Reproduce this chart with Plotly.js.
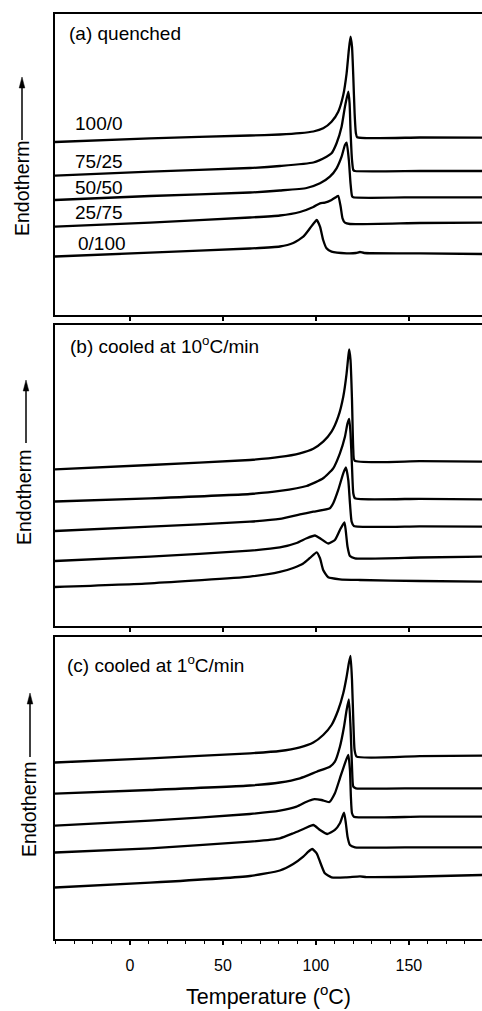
<!DOCTYPE html>
<html><head><meta charset="utf-8">
<script src="https://cdn.plot.ly/plotly-3.0.1.min.js"></script>
<style>html,body{margin:0;padding:0;background:#fff}</style>
</head><body><div id="chart" style="width:482px;height:1011px"></div>
<script>
const compositions = ['100/0','75/25','50/50','25/75','0/100'];
const panelTitles = ['(a) quenched','(b) cooled at 10<sup>o</sup>C/min','(c) cooled at 1<sup>o</sup>C/min'];
const tickValues = [0, 50, 100, 150];
const yTitle = 'Endotherm';
const xTitle = 'Temperature (<sup>o</sup>C)';

// (a) quenched — temperature (°C) and heat flow (arb. units, stacked)
const qT1 = [-40.3,10.8,64.5,80.6,91.4,98.6,103.9,108.4,112.0,114.7,116.5,117.7,118.6,119.4,120.1,120.8,121.5,122.2,155.9,189.3];
const qY1 = [173,176.7,179.5,180.5,181.8,183.5,186.7,193.3,203.3,220,241.7,265,278.3,268.3,238.3,201.7,181.7,177.7,177.5,177.3];
const qT2 = [-40.3,10.8,64.5,80.6,98.6,105.7,108.4,111.1,113.8,115.6,117.4,118.1,118.6,119.4,120.1,121.0,155.9,189.3];
const qY2 = [139.3,143.3,147,149,152.5,158.3,161.7,171.7,188.3,208.3,223.3,211.7,185,155,145,144,144,144];
const qT3 = [-40.3,10.8,64.5,80.6,95.0,102.2,107.5,111.1,113.8,115.6,116.5,117.7,118.6,119.4,120.1,155.9,189.3];
const qY3 = [115,119,122.5,124.5,127,131.7,138.3,146.7,158.3,170,172.3,155,131.7,119,117.7,117.7,117.7];
const qT4 = [-40.3,10.8,64.5,80.6,91.4,98.6,102.2,104.8,108.4,111.1,112.0,113.3,114.3,115.6,118.3,155.9,189.3];
const qY4 = [88.3,92.3,97.5,99.5,103,108,111.7,112.3,115,118.3,119,108.3,96.7,92.3,91,92,92.3];
const qT5 = [-40.3,10.8,64.5,80.6,87.8,93.2,96.8,99.5,100.4,102.2,103.9,105.7,108.4,116.5,121.5,123.7,126,155.9,189.3];
const qY5 = [58.5,62.3,66.5,68.5,72,78.3,86.7,93.3,95,88.3,75,66.7,63.3,61.7,62,63,62,61.7,61];

// (b) cooled at 10 °C/min
const bT1 = [-40.3,10.8,64.5,80.6,91.4,98.6,103.9,108.4,112.0,114.7,116.5,117.4,117.9,118.6,119.4,120.1,120.8,155.9,189.3];
const bY1 = [156.7,161,166,169,172.7,177.3,184.3,194.3,209.3,229.3,252.7,269.3,276.7,266,226,176,165.3,164.8,164.3];
const bT2 = [-40.3,10.8,64.5,80.6,95.0,103.9,109.3,112.9,115.6,117.0,117.9,118.6,119.4,120.1,121.0,155.9,189.3];
const bY2 = [124.5,127.7,132,135,140,147.7,157.7,172.7,189.3,202.7,207,192.7,159.3,132.7,127.7,127.2,126.7];
const bT3 = [-40.3,10.8,64.5,80.6,91.4,98.6,107.5,109.3,112.0,114.7,116.1,117.4,118.3,119.2,120.4,155.9,189.3];
const bY3 = [95,99.3,104.3,107,111.5,114.3,117.7,122.7,136,152.7,158.5,146,122.7,104.3,100,99.6,99.3];
const bT4 = [-40.3,10.8,64.5,80.6,89.6,95.0,99.5,102.2,106.6,110.2,112.9,115.3,116.0,117.0,118.3,121.0,155.9,189.3];
const bY4 = [65,69.3,75.3,78.5,83,87.7,90.5,87.7,82.5,86,96,103.5,96,79.3,70,67.7,68.5,69.3];
const bT5 = [-40.3,10.8,64.5,80.6,87.8,93.2,96.8,100.4,102.2,103.9,106.6,112.9,123.7,155.9,189.3];
const bY5 = [39,42.7,49.3,54,58,62.5,68,73.7,67.7,56,48.7,46.7,46,45,44.3];

// (c) cooled at 1 °C/min
const cT1 = [-40.3,10.8,64.5,80.6,91.4,98.6,103.9,108.4,112.0,114.7,116.5,117.7,118.6,119.4,120.1,120.8,121.9,155.9,189.3];
const cY1 = [176.5,180.7,185.7,188,191.7,196.5,204,214,229,245.7,262.3,275.7,283,259,219,189,182.3,182.8,183.3];
const cT2 = [-40.3,10.8,64.5,80.6,91.4,100.4,107.5,110.2,112.9,115.1,116.5,117.7,118.6,119.4,120.1,121.5,155.9,189.3];
const cY2 = [145.3,149,153.5,156.5,160.7,167.3,172.3,177.3,192.3,212.3,229,239.5,212.3,172.3,152.3,150.7,150.7,150.7];
const cT3 = [-40.3,10.8,64.5,80.6,89.6,95.0,98.6,103.0,107.2,110.2,112.9,115.6,117.4,118.3,118.8,119.4,120.4,155.9,189.3];
const cY3 = [113.3,118.3,125,128.3,132.3,137.3,139.7,139,137,145.7,160.7,175.7,184,169,142.3,125.7,122.3,122.3,122.3];
const cT4 = [-40.3,10.8,64.5,80.6,87.8,94.1,98.6,102.2,106.1,110.2,112.9,115.1,116.1,117.0,118.3,121.0,155.9,189.3];
const cY4 = [86.5,90.7,97.3,100.7,105.7,110.7,114,109,105,109,115.7,126.3,115.7,102.3,94,91.7,91.7,91.7];
const cT5 = [-40.3,10.8,64.5,80.6,87.8,93.2,95.9,98.0,100.4,102.5,104.8,108.4,116.5,123.7,127.2,155.9,189.3];
const cY5 = [51.5,56.3,63,68.5,75,82.3,87.3,90,85.7,75.7,65.7,61.7,61.7,62.6,61.9,62.5,64];

const panels = [
  {T:[qT1,qT2,qT3,qT4,qT5], Y:[qY1,qY2,qY3,qY4,qY5], xa:'x3', ya:'y3'},
  {T:[bT1,bT2,bT3,bT4,bT5], Y:[bY1,bY2,bY3,bY4,bY5], xa:'x2', ya:'y2'},
  {T:[cT1,cT2,cT3,cT4,cT5], Y:[cY1,cY2,cY3,cY4,cY5], xa:'x', ya:'y'}
];

const traces = [];
panels.forEach(p => {
  p.T.forEach((t, i) => {
    traces.push({
      x: t, y: p.Y[i], xaxis: p.xa, yaxis: p.ya, type: 'scatter', mode: 'lines',
      name: compositions[i], showlegend: false,
      line: {color: 'black', width: 2.3, shape: 'spline', smoothing: 0.5}
    });
  });
});

const font = {family: 'Liberation Sans, Arial, sans-serif', color: 'black'};
const baseX = {
  range: [-40.3, 189.3], showline: true, linewidth: 2, linecolor: 'black', mirror: true,
  showgrid: false, zeroline: false, ticks: 'outside', ticklen: 4, tickwidth: 1.5,
  tickcolor: 'black', tickvals: tickValues, fixedrange: true
};
const baseY = {
  showline: true, linewidth: 2, linecolor: 'black', mirror: true, showgrid: false,
  zeroline: false, ticks: '', showticklabels: false, fixedrange: true
};

const H = 925;
function py(p){ return (939 - p) / H; }
function px(p){ return (p - 55) / 427; }

const annotations = [];
const shapes = [];
const titleY = [33, 345, 664];
const titleX = [67, 68, 65];
panelTitles.forEach((t, i) => {
  annotations.push({text: t, xref: 'paper', yref: 'paper', x: px(titleX[i]), y: py(titleY[i]),
    xanchor: 'left', yanchor: 'middle', showarrow: false, font: {...font, size: 19}});
});
// y titles with arrows
const yt = [{tx:22, ty:189, ax:22, tip:77, tail:140}, {tx:24, ty:498, ax:26, tip:380, tail:443}, {tx:29, ty:810, ax:30, tip:693, tail:757}];
yt.forEach(o => {
  annotations.push({text: yTitle, xref: 'paper', yref: 'paper', x: px(o.tx), y: py(o.ty), textangle: -90,
    xanchor: 'center', yanchor: 'middle', showarrow: false, font: {...font, size: 19.5}});
  shapes.push({type: 'line', xref: 'paper', yref: 'paper', x0: px(o.ax), x1: px(o.ax),
    y0: py(o.tail), y1: py(o.tip + 8), line: {color: 'black', width: 1.5}});
  shapes.push({type: 'path', xref: 'paper', yref: 'paper',
    path: `M ${px(o.ax)} ${py(o.tip)} L ${px(o.ax - 2.8)} ${py(o.tip + 11)} L ${px(o.ax + 2.8)} ${py(o.tip + 11)} Z`,
    fillcolor: 'black', line: {color: 'black', width: 0.5}});
});
// composition labels in panel (a)
const labelT = [-30.6, -30.8, -30.5, -30.5, -29.0];
const labelY = [192, 153.3, 127.3, 102.7, 71.7];
compositions.forEach((c, i) => {
  annotations.push({text: c, xref: 'x3', yref: 'y3', x: labelT[i], y: labelY[i],
    xanchor: 'left', yanchor: 'middle', showarrow: false, font: {...font, size: 19}});
});

const layout = {
  width: 482, height: 1011, paper_bgcolor: 'white', plot_bgcolor: 'white',
  margin: {l: 55, r: 0, t: 14, b: 72}, font: font, showlegend: false,
  xaxis: {...baseX, anchor: 'y', showticklabels: true, tickfont: {...font, size: 16}, ticklabelstandoff: 7,
    minor: {dtick: 10, tick0: 0, ticks: 'outside', ticklen: 2.5, tickwidth: 1, tickcolor: 'black'},
    title: {text: xTitle, font: {...font, size: 21.5}, standoff: 16}},
  xaxis2: {...baseX, anchor: 'y2', showticklabels: false},
  xaxis3: {...baseX, anchor: 'y3', showticklabels: false},
  yaxis: {...baseY, domain: [0, 0.3265], range: [0, 302]},
  yaxis2: {...baseY, domain: [0.3384, 0.6638], range: [0, 301]},
  yaxis3: {...baseY, domain: [0.6746, 1], range: [0, 301]},
  annotations: annotations,
  shapes: shapes
};

Plotly.newPlot('chart', traces, layout, {staticPlot: true, displayModeBar: false});
</script></body></html>
